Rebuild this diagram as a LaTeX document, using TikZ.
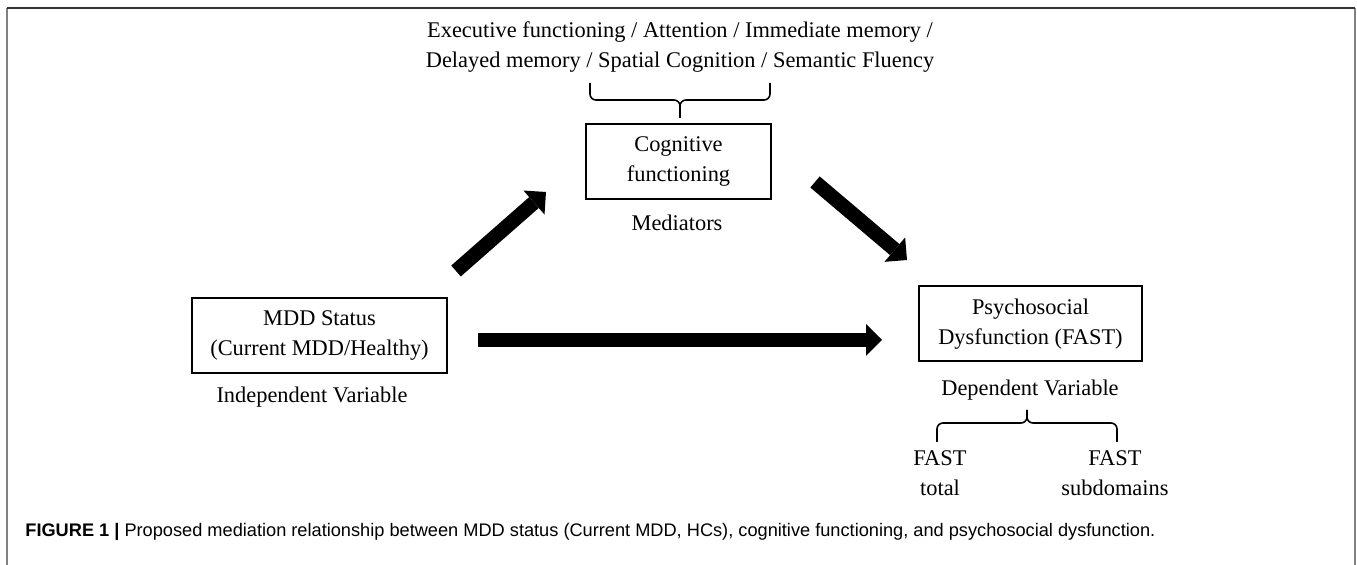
\documentclass[tikz,border=0pt]{standalone}
\usepackage{fontspec}
\setmainfont{Liberation Serif}
\newfontfamily\capfont{Liberation Sans}
\usetikzlibrary{arrows.meta,positioning}
\tikzset{
	box/.style={draw,line width=1pt,align=center,inner sep=0pt,minimum height=37.5pt},
	tag/.style={inner sep=0pt,align=center},
	fat/.style={line width=7.25pt,-{Triangle[width=16pt,length=8pt,line width=0pt]}},
	curly/.style={line width=0.8pt,rounded corners=3pt},
	frame/.style={line width=1pt}
}

\begin{document}
\begin{tikzpicture}[x=0.5pt,y=-0.5pt,font=\fontsize{11.2pt}{15pt}\selectfont]
\useasboundingbox (0,0) rectangle (1357,565);

\draw[frame,black!50] (7,565) -- (7,8);
\draw[frame,black!50] (1355,8) -- (1355,565);
\draw[frame,black!80] (7,8) -- (1355,8);

\node[tag] (domains) at (680,47) {Executive functioning / Attention / Immediate memory /\\Delayed memory / Spatial Cognition / Semantic Fluency};
\node[box,minimum width=92.5pt] (cog) at (678.5,161.5) {Cognitive\\functioning};
\node[tag] (medlab) at (677,223) {Mediators};

\node[box,minimum width=127.5pt] (mdd) at (319.5,335.5) {MDD Status\\(Current MDD/Healthy)};
\node[tag] (indlab) at (312,397) {Independent Variable};

\node[box,minimum width=111.5pt] (fast) at (1030.5,324) {Psychosocial\\Dysfunction (FAST)};
\node[tag] (deplab) at (1030,390) {Dependent Variable};
\node[tag] (total) at (940,473) {FAST\\total};
\node[tag] (subdom) at (1115,473) {FAST\\subdomains};

\coordinate (up0) at (456,271);
\coordinate (up1) at (546,192);
\coordinate (dn0) at (815,182);
\coordinate (dn1) at (907,260);
\coordinate (hz0) at (478,340);
\coordinate (hz1) at (882,340);
\draw[fat] (up0) -- (up1);
\draw[fat] (dn0) -- (dn1);
\draw[fat] (hz0) -- (hz1);

\coordinate (tbl) at (590,83);
\coordinate (tbr) at (770,83);
\coordinate (tbm) at (680,100);
\coordinate (tbt) at (680,118);
\draw[curly] (tbl) |- (tbm) -- (tbt);
\draw[curly] (tbr) |- (tbm) -- (tbt);

\coordinate (bbl) at (937,442);
\coordinate (bbr) at (1117,442);
\coordinate (bbm) at (1027,423);
\coordinate (bbt) at (1027,410);
\draw[curly] (bbl) |- (bbm) -- (bbt);
\draw[curly] (bbr) |- (bbm) -- (bbt);

\node[anchor=west,inner sep=0pt,font=\capfont\fontsize{9.1pt}{10pt}\selectfont] (cap) at (25,532) {\textbf{FIGURE 1 |} Proposed mediation relationship between MDD status (Current MDD, HCs), cognitive functioning, and psychosocial dysfunction.};
\end{tikzpicture}
\end{document}
